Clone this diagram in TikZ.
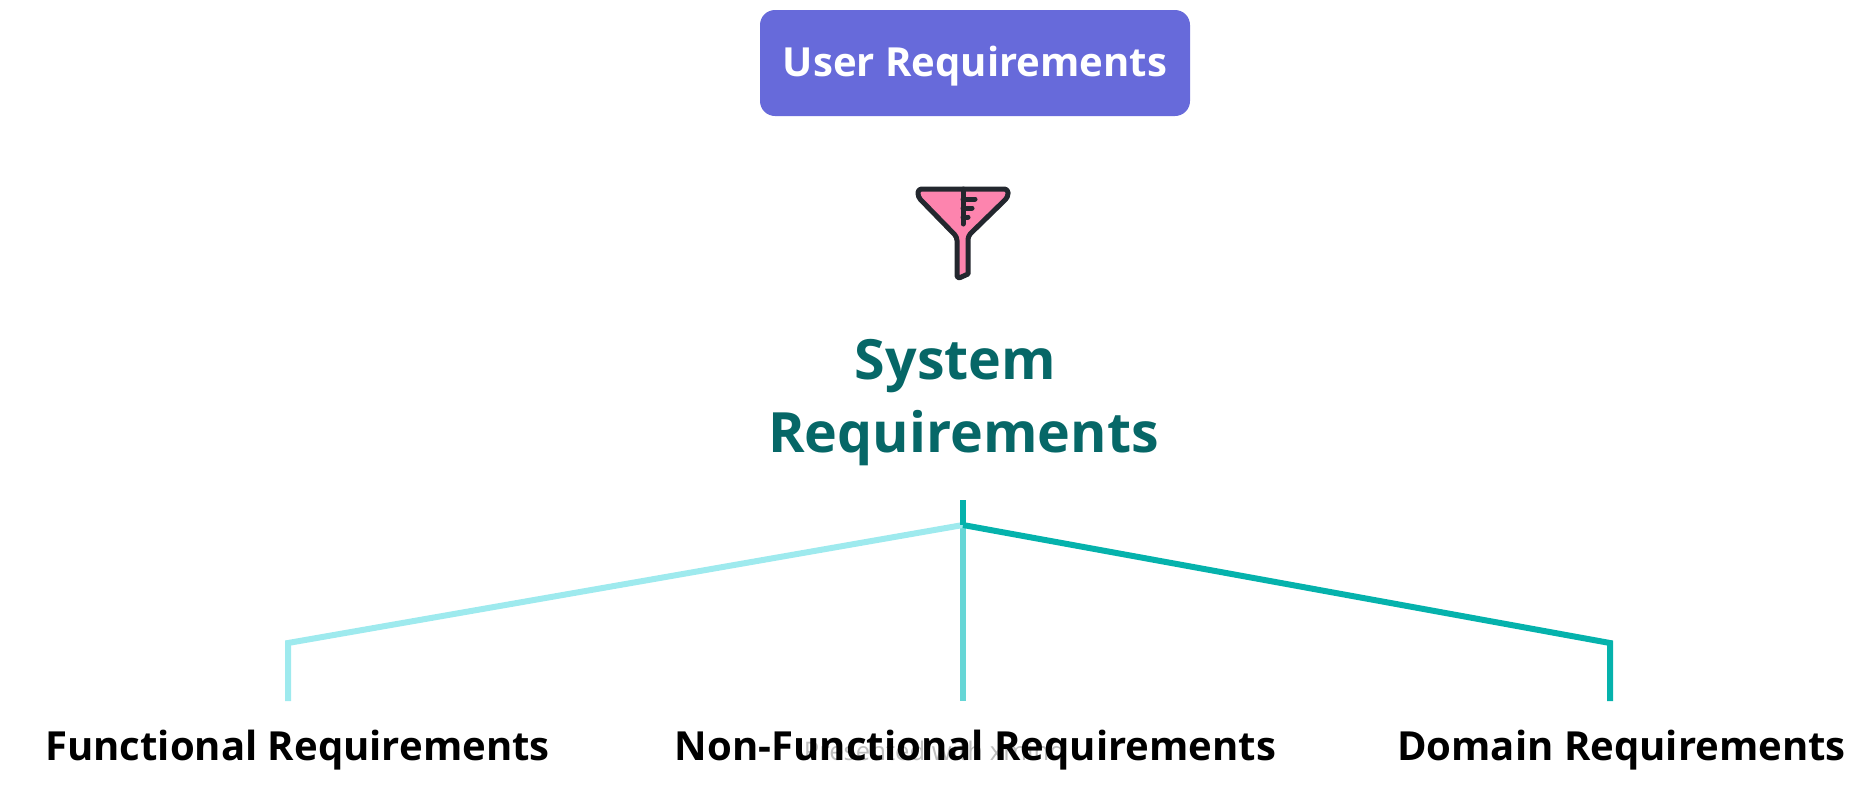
\documentclass[tikz,border=0pt]{standalone}
\usepackage{fontspec}
\setmainfont{Open Sans}
\usepackage{tikz}
\usetikzlibrary{positioning,calc}
\definecolor{reqIndigo}{RGB}{103,106,218}
\definecolor{reqTeal}{RGB}{6,103,103}
\definecolor{reqLight}{RGB}{158,234,238}
\definecolor{reqMid}{RGB}{102,214,214}
\definecolor{reqDark}{RGB}{5,178,172}
\definecolor{reqPink}{RGB}{253,132,174}
\definecolor{reqInk}{RGB}{35,39,46}
\definecolor{reqMark}{RGB}{190,190,190}
\begin{document}
\begin{tikzpicture}[
  font=\bfseries,
  userbox/.style={fill=reqIndigo, text=white, rounded corners=0.3cm, minimum width=8.6cm, minimum height=2.12cm, inner sep=0pt, text height=0.7cm, text depth=0.18cm, font=\fontsize{22.8}{28}\selectfont\bfseries},
  sysreq/.style={text=reqTeal, align=center, inner sep=0pt, font=\fontsize{31.6}{42}\selectfont\bfseries},
  leaf/.style={anchor=base, inner sep=0pt, text=black, font=\fontsize{22.8}{28}\selectfont\bfseries},
  branch/.style={line width=0.12cm, line join=miter},
  funnel/.style={line width=0.1cm, draw=reqInk, line join=round, line cap=round},
]
\useasboundingbox (0,0) rectangle (37.4,-16.04);
% top box
\node[userbox] (user) at (19.5,-1.26) {User Requirements};
% funnel icon
\draw[funnel, fill=reqPink, rounded corners=0.07cm]
  (18.36,-3.78) -- (20.16,-3.78) -- (20.16,-3.94) -- (19.36,-4.72) [sharp corners] -- (19.36,-5.48)
  [rounded corners=0.07cm] -- (19.14,-5.58) -- (19.14,-4.74) -- (18.36,-3.94) -- cycle;
\draw[funnel] (19.26,-3.78) -- (19.26,-4.48);
\draw[funnel] (19.26,-3.98) -- (19.50,-3.98);
\draw[funnel] (19.26,-4.16) -- (19.44,-4.16);
\draw[funnel] (19.26,-4.34) -- (19.36,-4.34);
% title
\node[sysreq] (sys) at (19.27,-8.05) {System\hspace*{0.32cm}\\Requirements};
% free ends of the branches
\coordinate (top) at (19.26,-10.0);
\coordinate (hub) at (19.26,-10.5);
\coordinate (kneeF) at (5.76,-12.86);
\coordinate (kneeD) at (32.2,-12.86);
\coordinate (endF) at (5.76,-14.02);
\coordinate (endN) at (19.26,-14.02);
\coordinate (endD) at (32.2,-14.02);
% branches
\draw[branch, reqMid] (hub) -- (endN);
\draw[branch, reqLight] (hub) -- (kneeF) -- (endF);
\draw[branch, reqDark] (hub) -- (kneeD) -- (endD);
\draw[branch, reqDark] (top) -- (hub);
% labels
\node[anchor=base, inner sep=0pt, text=reqMark, font=\fontsize{14.6}{18}\selectfont] (mark) at (18.69,-15.2) {Presented with xmind};
\node[leaf] (func) at (5.95,-15.2) {Functional Requirements};
\node[leaf] (nonf) at (19.51,-15.2) {Non-Functional Requirements};
\node[leaf] (dom) at (32.43,-15.2) {Domain Requirements};
\end{tikzpicture}
\end{document}
